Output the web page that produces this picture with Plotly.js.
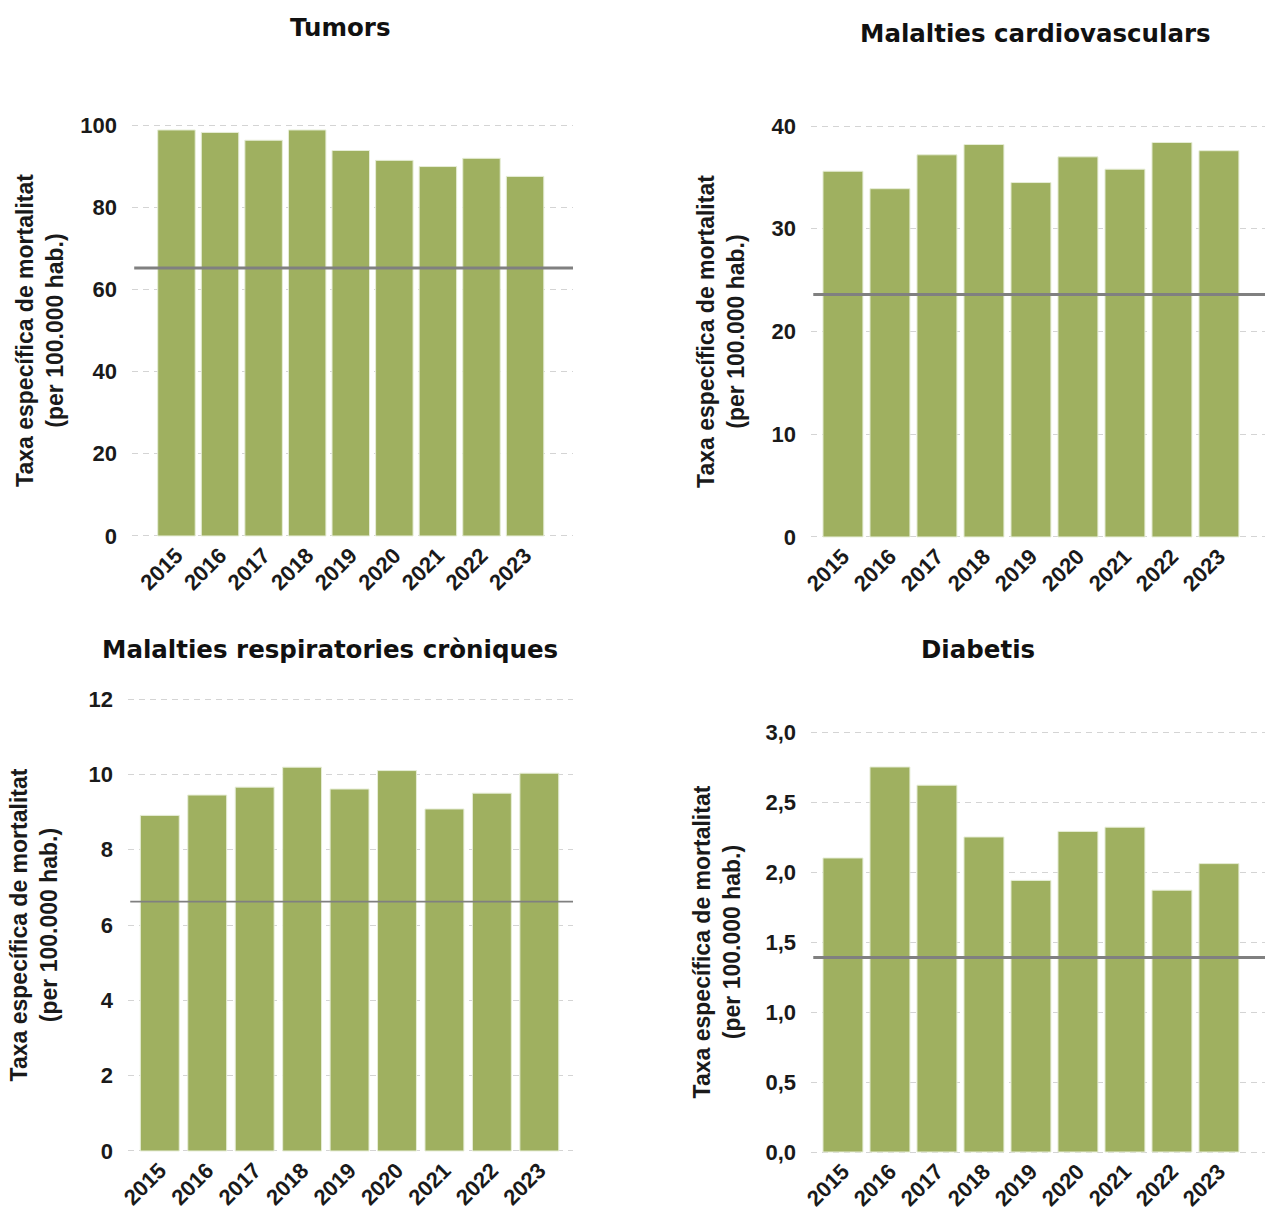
<!DOCTYPE html>
<html>
<head>
<meta charset="utf-8">
<script src="https://cdn.plot.ly/plotly-3.0.1.min.js"></script>
<style>html,body{margin:0;padding:0;background:#fff;}#chart{width:1269px;height:1217px;}</style>
</head>
<body>
<div id="chart"></div>
<script>
const years = ["2015","2016","2017","2018","2019","2020","2021","2022","2023"];
const tumors = [98.8, 98.2, 96.3, 98.8, 93.8, 91.4, 89.9, 91.9, 87.5];
const tumorsRef = 65.2;
const cardio = [35.6, 33.9, 37.2, 38.2, 34.5, 37.0, 35.8, 38.4, 37.6];
const cardioRef = 23.6;
const respir = [8.91, 9.45, 9.66, 10.19, 9.61, 10.10, 9.08, 9.50, 10.03];
const respirRef = 6.62;
const diabetis = [2.10, 2.75, 2.62, 2.25, 1.94, 2.29, 2.32, 1.87, 2.06];
const diabetisRef = 1.39;
const titles = ["Tumors", "Malalties cardiovasculars", "Malalties respiratories cròniques", "Diabetis"];
const yTitle = "Taxa específica de mortalitat<br>(per 100.000 hab.)";

const barColor = "#9fb060";
const series = [tumors, cardio, respir, diabetis];
const refs = [tumorsRef, cardioRef, respirRef, diabetisRef];
const widths = [0.86, 0.85, 0.82, 0.85];

const traces = series.map((vals, i) => ({
  type: "bar",
  x: years,
  y: vals,
  xaxis: i === 0 ? "x" : "x" + (i + 1),
  yaxis: i === 0 ? "y" : "y" + (i + 1),
  width: widths[i],
  marker: {color: barColor, line: {color: "#e6edd6", width: 1}},
  showlegend: false,
  hoverinfo: "x+y"
}));

const W = 1269, H = 1217;
const px = v => v / W;
const py = v => 1 - v / H;

const tickFont = {family: "Liberation Sans, Arial, sans-serif", size: 22, color: "#1a1a1a", weight: "bold"};
const titleFont = {family: "Liberation Sans, Arial, sans-serif", size: 23, color: "#1a1a1a", weight: "bold"};

function xAxis(domain, range, anchor) {
  return {domain: domain, range: range, anchor: anchor, type: "category",
    tickangle: -45, tickfont: tickFont, showgrid: false, zeroline: false,
    showline: false, ticks: "", fixedrange: true};
}
function yAxis(domain, range, dtick, anchor, standoff, fmt) {
  return {domain: domain, range: range, dtick: dtick, tick0: 0, anchor: anchor,
    tickfont: tickFont, showgrid: true, gridcolor: "#d4d4d4", gridwidth: 1,
    griddash: "6px,5px", zeroline: false, showline: false, ticks: "",
    ticklabelstandoff: 14, tickformat: fmt || "",
    title: {text: yTitle, font: titleFont, standoff: standoff}, fixedrange: true};
}

const layout = {
  width: W, height: H,
  margin: {l: 0, r: 0, t: 0, b: 0},
  paper_bgcolor: "#ffffff", plot_bgcolor: "#ffffff",
  separators: ", ",
  font: {family: "Liberation Sans, Arial, sans-serif", color: "#1a1a1a"},
  xaxis: xAxis([px(132), px(573)], [-1.02, 9.1], "y"),
  yaxis: yAxis([py(537.2), py(123.8)], [-0.3, 100.3], 20, "x", 10),
  xaxis2: xAxis([px(811), px(1265)], [-0.68, 8.98], "y2"),
  yaxis2: yAxis([py(538.2), py(124.8)], [-0.12, 40.12], 10, "x2", 20),
  xaxis3: xAxis([px(128), px(573)], [-0.67, 8.71], "y3"),
  yaxis3: yAxis([py(1152.2), py(697.8)], [-0.032, 12.032], 2, "x3", 24),
  xaxis4: xAxis([px(811), px(1265)], [-0.68, 8.98], "y4"),
  yaxis4: yAxis([py(1153.2), py(730.8)], [-0.0086, 3.0086], 0.5, "x4", 18, ".1f"),
  shapes: refs.map((r, i) => ({
    type: "line", layer: "above",
    xref: (i === 0 ? "x" : "x" + (i + 1)) + " domain", x0: 0.005, x1: 1,
    yref: i === 0 ? "y" : "y" + (i + 1), y0: r, y1: r,
    line: {color: "#808080", width: i === 2 ? 1.7 : 3}
  })),
  annotations: [
    {text: titles[0], x: px(340), y: py(28)},
    {text: titles[1], x: px(1035), y: py(34)},
    {text: titles[2], x: px(330), y: py(649)},
    {text: titles[3], x: px(978), y: py(649)}
  ].map(a => Object.assign(a, {xref: "paper", yref: "paper", showarrow: false,
    xanchor: "center", yanchor: "middle",
    font: {family: "DejaVu Sans, sans-serif", size: 24.5, color: "#111", weight: "bold"}}))
};

Plotly.newPlot("chart", traces, layout, {displayModeBar: false, staticPlot: true});
</script>
</body>
</html>
